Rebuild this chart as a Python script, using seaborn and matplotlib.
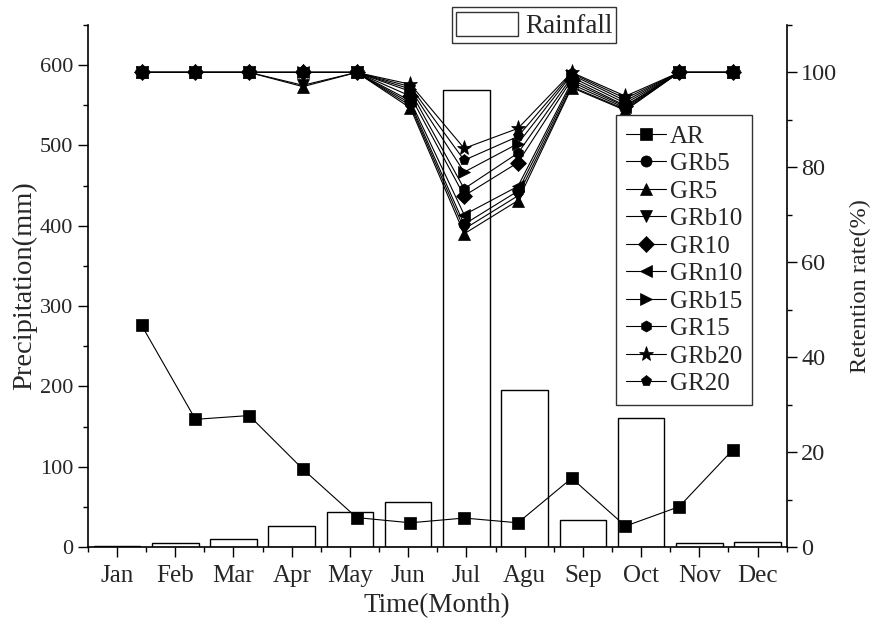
import numpy as np
import pandas as pd
import matplotlib
matplotlib.use("Agg")
import matplotlib.pyplot as plt
import seaborn as sns
from matplotlib.patches import Patch
from matplotlib.ticker import MultipleLocator, FixedLocator

sns.set_style("ticks")
plt.rcParams['font.family'] = ['Liberation Serif', 'DejaVu Serif']
plt.rcParams['axes.unicode_minus'] = False

# data
months = ["Jan", "Feb", "Mar", "Apr", "May", "Jun", "Jul", "Agu", "Sep", "Oct", "Nov", "Dec"]
rainfall = [1.2, 5.4, 10, 26, 43, 56, 569, 196, 34, 161, 5.4, 6.3]

series_names = ["AR", "GRb5", "GR5", "GRb10", "GR10", "GRn10", "GRb15", "GR15", "GRb20", "GR20"]
series_markers = ["s", "o", "^", "v", "D", "<", ">", "h", "*", "p"]
AR = [46.7, 26.9, 27.7, 16.4, 6.2, 5.1, 6.1, 5.1, 14.5, 4.4, 8.5, 20.5]
GRb5 = [100, 100, 100, 100, 100, 93.5, 68.0, 75.0, 97.5, 92.5, 100, 100]
GR5 = [100, 100, 100, 97.0, 100, 92.5, 66.0, 73.0, 96.8, 92.0, 100, 100]
GRb10 = [100, 100, 100, 97.3, 100, 93.0, 67.0, 74.0, 97.0, 92.2, 100, 100]
GR10 = [100, 100, 100, 100, 100, 95.0, 74.0, 81.0, 98.5, 93.0, 100, 100]
GRn10 = [100, 100, 100, 100, 100, 94.0, 70.0, 76.0, 98.0, 92.8, 100, 100]
GRb15 = [100, 100, 100, 100, 100, 96.5, 79.0, 85.0, 99.5, 94.0, 100, 100]
GR15 = [100, 100, 100, 100, 100, 96.0, 75.5, 83.0, 99.0, 93.5, 100, 100]
GRb20 = [100, 100, 100, 100, 100, 97.5, 84.0, 88.2, 100, 95.0, 100, 100]
GR20 = [100, 100, 100, 100, 100, 97.0, 81.5, 86.5, 99.8, 94.5, 100, 100]
series_values = [AR, GRb5, GR5, GRb10, GR10, GRn10, GRb15, GR15, GRb20, GR20]

rain_df = pd.DataFrame({"month": months, "rain": rainfall})

fig = plt.figure(figsize=(8.79, 6.24), dpi=100)
ax = fig.add_axes([0.100, 0.1234, 0.795, 0.8366])

# 降雨柱状图
sns.barplot(data=rain_df, x="month", y="rain", order=months, color="white",
            edgecolor="black", linewidth=1.0, width=0.8, saturation=1, ax=ax)
ax.set_xlim(-0.5, 11.5)
ax.set_ylim(0, 650)
ax.yaxis.set_major_locator(MultipleLocator(100))
ax.yaxis.set_minor_locator(MultipleLocator(50))
ax.xaxis.set_minor_locator(FixedLocator(np.arange(-0.5, 12, 1)))
ax.set_xlabel("Time(Month)", fontsize=19.5, labelpad=4)
ax.set_ylabel("Precipitation(mm)", fontsize=20.5, labelpad=2)
ax.tick_params(axis="both", which="major", direction="out", length=7, width=1, color="black")
ax.tick_params(axis="both", which="minor", direction="out", length=3.5, width=1, color="black")
ax.tick_params(axis="x", which="major", labelsize=18, pad=6)
ax.tick_params(axis="y", which="major", labelsize=16)
ax.spines["top"].set_visible(False)
ax.spines["right"].set_visible(False)
for s in ["left", "bottom"]:
    ax.spines[s].set_linewidth(1.2)
    ax.spines[s].set_color("black")

ax.legend(handles=[Patch(facecolor="white", edgecolor="#333333", linewidth=1.0)], labels=["Rainfall"],
          loc="upper left", bbox_to_anchor=(0.514, 0.988), bbox_transform=fig.transFigure,
          fontsize=19.5, fancybox=False, edgecolor="#333333", framealpha=1,
          handlelength=2.3, handleheight=1.0, borderpad=0.15, handletextpad=0.25, borderaxespad=0)

# 保留率折线图（独立x轴图层）
ax2 = fig.add_axes(ax.get_position(), facecolor="none")
month_pos = np.arange(1, 13)
for name, mk, vals in zip(series_names, series_markers, series_values):
    ms = 11 if mk == "*" else 8
    sns.lineplot(x=month_pos, y=vals, marker=mk, markersize=ms, color="black",
                 markeredgecolor="black", markeredgewidth=0.5, linewidth=0.8,
                 label=name, ax=ax2)
ax2.set_xlim(0, 13)
ax2.set_ylim(0, 110)
ax2.set_xticks([])
ax2.yaxis.tick_right()
ax2.yaxis.set_label_position("right")
ax2.yaxis.set_major_locator(MultipleLocator(20))
ax2.yaxis.set_minor_locator(MultipleLocator(10))
ax2.tick_params(axis="y", which="major", direction="out", length=7, width=1, labelsize=17.5, color="black")
ax2.tick_params(axis="y", which="minor", direction="out", length=3.5, width=1, color="black")
ax2.set_ylabel("Retention rate(%)", fontsize=17.5, labelpad=9)
for s in ["top", "left", "bottom"]:
    ax2.spines[s].set_visible(False)
ax2.spines["right"].set_linewidth(1.2)
ax2.spines["right"].set_color("black")

ax2.legend(loc="upper right", bbox_to_anchor=(0.8555, 0.8157), bbox_transform=fig.transFigure,
           fontsize=18, fancybox=False, edgecolor="#333333", framealpha=1,
           handlelength=1.6, labelspacing=0.2, borderpad=0.4, handletextpad=0.15, borderaxespad=0)

fig.savefig("out.png", dpi=100)
